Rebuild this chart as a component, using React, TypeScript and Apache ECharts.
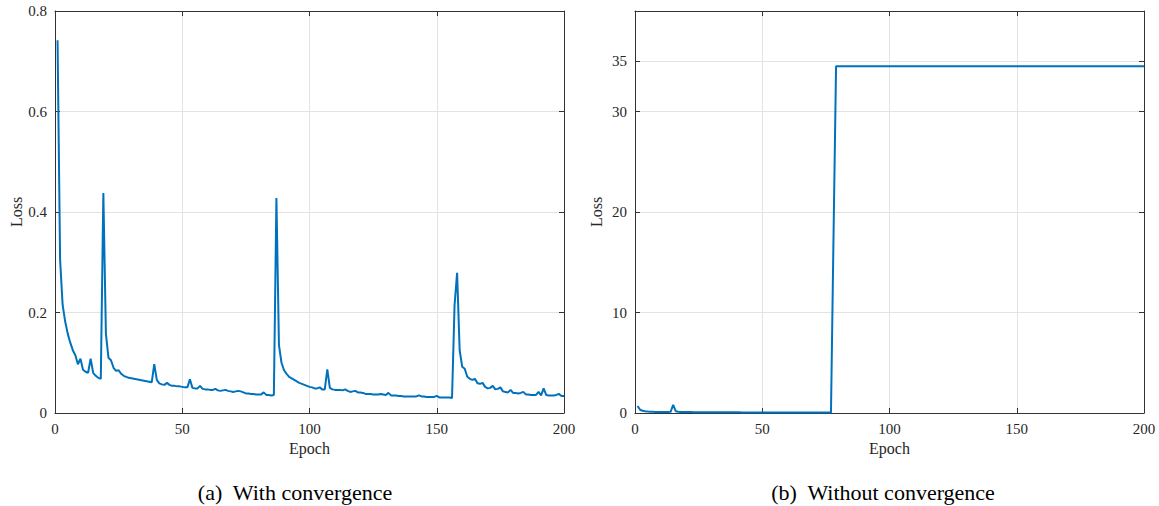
import React, { useEffect, useRef } from "react";
import * as echarts from "echarts";

// ---------- data ----------
const xTicks = [0, 50, 100, 150, 200];
const yTicksA = [0, 0.2, 0.4, 0.6, 0.8];
const yTicksB = [0, 10, 20, 30, 35];

// (a) With convergence: loss at epochs 1..200
const lossA = [
  0.742, 0.305, 0.215, 0.182, 0.158, 0.140, 0.125, 0.115, 0.097, 0.108,
  0.086, 0.082, 0.080, 0.108, 0.080, 0.074, 0.070, 0.068, 0.438, 0.158,
  0.110, 0.105, 0.090, 0.084, 0.085, 0.078, 0.074, 0.072, 0.070, 0.069,
  0.068, 0.067, 0.066, 0.065, 0.064, 0.063, 0.062, 0.061, 0.097, 0.066,
  0.059, 0.057, 0.056, 0.060, 0.056, 0.054, 0.054, 0.053, 0.053, 0.052,
  0.051, 0.051, 0.067, 0.050, 0.049, 0.049, 0.054, 0.048, 0.047, 0.047,
  0.046, 0.046, 0.048, 0.045, 0.044, 0.045, 0.046, 0.044, 0.043, 0.042,
  0.043, 0.044, 0.043, 0.041, 0.039, 0.039, 0.038, 0.038, 0.037, 0.037,
  0.037, 0.041, 0.036, 0.036, 0.035, 0.036, 0.428, 0.135, 0.100, 0.085,
  0.078, 0.072, 0.069, 0.066, 0.063, 0.060, 0.058, 0.056, 0.054, 0.052,
  0.051, 0.049, 0.049, 0.051, 0.047, 0.047, 0.087, 0.050, 0.047, 0.046,
  0.046, 0.046, 0.045, 0.047, 0.044, 0.042, 0.043, 0.044, 0.041, 0.041,
  0.040, 0.038, 0.038, 0.038, 0.037, 0.037, 0.037, 0.038, 0.037, 0.036,
  0.040, 0.035, 0.035, 0.035, 0.034, 0.034, 0.033, 0.033, 0.033, 0.033,
  0.033, 0.033, 0.035, 0.033, 0.033, 0.032, 0.032, 0.032, 0.032, 0.034,
  0.031, 0.031, 0.031, 0.031, 0.031, 0.030, 0.215, 0.279, 0.125, 0.092,
  0.088, 0.072, 0.068, 0.066, 0.068, 0.059, 0.058, 0.060, 0.052, 0.049,
  0.050, 0.054, 0.047, 0.048, 0.051, 0.043, 0.042, 0.041, 0.046, 0.040,
  0.040, 0.039, 0.040, 0.042, 0.037, 0.037, 0.036, 0.036, 0.036, 0.042,
  0.035, 0.049, 0.036, 0.035, 0.035, 0.035, 0.036, 0.038, 0.034, 0.034,
];

// (b) Without convergence: loss at epochs 1..200
const lossB = [
  0.70, 0.32, 0.22, 0.18, 0.15, 0.13, 0.12, 0.11, 0.10, 0.10,
  0.10, 0.09, 0.09, 0.12, 0.82, 0.18, 0.12, 0.10, 0.10, 0.09,
  0.09, 0.09, 0.08, 0.08, 0.08, 0.08, 0.08, 0.07, 0.07, 0.07,
  0.07, 0.07, 0.07, 0.07, 0.07, 0.07, 0.07, 0.07, 0.07, 0.07,
  0.07, 0.06, 0.06, 0.06, 0.06, 0.06, 0.06, 0.06, 0.06, 0.06,
  0.06, 0.06, 0.06, 0.06, 0.06, 0.06, 0.06, 0.06, 0.06, 0.06,
  0.05, 0.05, 0.05, 0.05, 0.05, 0.05, 0.05, 0.05, 0.05, 0.05,
  0.05, 0.05, 0.05, 0.05, 0.05, 0.05, 0.05, 17.5, 34.5, 34.5,
  34.5, 34.5, 34.5, 34.5, 34.5, 34.5, 34.5, 34.5, 34.5, 34.5,
  34.5, 34.5, 34.5, 34.5, 34.5, 34.5, 34.5, 34.5, 34.5, 34.5,
  34.5, 34.5, 34.5, 34.5, 34.5, 34.5, 34.5, 34.5, 34.5, 34.5,
  34.5, 34.5, 34.5, 34.5, 34.5, 34.5, 34.5, 34.5, 34.5, 34.5,
  34.5, 34.5, 34.5, 34.5, 34.5, 34.5, 34.5, 34.5, 34.5, 34.5,
  34.5, 34.5, 34.5, 34.5, 34.5, 34.5, 34.5, 34.5, 34.5, 34.5,
  34.5, 34.5, 34.5, 34.5, 34.5, 34.5, 34.5, 34.5, 34.5, 34.5,
  34.5, 34.5, 34.5, 34.5, 34.5, 34.5, 34.5, 34.5, 34.5, 34.5,
  34.5, 34.5, 34.5, 34.5, 34.5, 34.5, 34.5, 34.5, 34.5, 34.5,
  34.5, 34.5, 34.5, 34.5, 34.5, 34.5, 34.5, 34.5, 34.5, 34.5,
  34.5, 34.5, 34.5, 34.5, 34.5, 34.5, 34.5, 34.5, 34.5, 34.5,
  34.5, 34.5, 34.5, 34.5, 34.5, 34.5, 34.5, 34.5, 34.5, 34.5,
];

const captions = ["(a)  With convergence", "(b)  Without convergence"];
const xName = "Epoch";
const yName = "Loss";

// ---------- styles ----------
const FONT = "Liberation Serif";
const AXIS_COLOR = "#333333";
const TEXT_COLOR = "#262626";
const GRID_COLOR = "#e3e3e3";
const LINE_COLOR = "#0072BD";

export default function App() {
  const ref = useRef<HTMLDivElement>(null);

  useEffect(() => {
    if (!ref.current) return;
    const chart = echarts.init(ref.current, undefined, { renderer: "svg" });

    const axisLine = { show: true, onZero: false, lineStyle: { color: AXIS_COLOR, width: 1 } };
    const tickIn = { show: true, inside: true, length: 5, lineStyle: { color: AXIS_COLOR, width: 1 } };
    const labelStyle = { fontFamily: FONT, fontSize: 15, color: TEXT_COLOR };
    const nameStyle = { fontFamily: FONT, fontSize: 16, color: TEXT_COLOR };

    const xAxisFor = (gridIndex: number) => [
      {
        type: "value", gridIndex, min: xTicks[0], max: xTicks[xTicks.length - 1], interval: 50, position: "bottom",
        axisLine, axisTick: tickIn,
        axisLabel: { ...labelStyle, margin: 8 },
        splitLine: { show: true, showMinLine: false, showMaxLine: false, lineStyle: { color: GRID_COLOR, width: 1 } },
        name: xName, nameLocation: "middle", nameGap: 27, nameTextStyle: nameStyle,
      },
      {
        type: "value", gridIndex, min: xTicks[0], max: xTicks[xTicks.length - 1], interval: 50, position: "top",
        axisLine, axisTick: tickIn, axisLabel: { show: false }, splitLine: { show: false },
      },
    ];

    const captionStyle = (text: string) => ({
      text,
      font: "22px 'Liberation Serif', serif",
      fontFamily: FONT,
      fontSize: 22,
      fill: "#000",
      align: "center",
      verticalAlign: "top",
    });

    const option: any = {
      animation: false,
      backgroundColor: "#ffffff",
      textStyle: { fontFamily: FONT },
      grid: [
        { left: 55, top: 11, width: 509, height: 402, containLabel: false },
        { left: 635, top: 11, width: 509, height: 402, containLabel: false },
      ],
      xAxis: [...xAxisFor(0), ...xAxisFor(1)],
      yAxis: [
        // chart (a)
        {
          type: "value", gridIndex: 0, min: yTicksA[0], max: yTicksA[yTicksA.length - 1], interval: 0.2, position: "left",
          axisLine, axisTick: tickIn,
          axisLabel: { ...labelStyle, margin: 8, formatter: (v: number) => (v === 0 ? "0" : v.toFixed(1)) },
          splitLine: { show: true, showMinLine: false, showMaxLine: false, lineStyle: { color: GRID_COLOR, width: 1 } },
          name: yName, nameLocation: "middle", nameGap: 31, nameTextStyle: nameStyle,
        },
        {
          type: "value", gridIndex: 0, min: yTicksA[0], max: yTicksA[yTicksA.length - 1], interval: 0.2, position: "right",
          axisLine, axisTick: tickIn, axisLabel: { show: false }, splitLine: { show: false },
        },
        // chart (b)
        {
          type: "value", gridIndex: 1, min: 0, max: 40, interval: 5, position: "left",
          axisLine,
          axisTick: { ...tickIn, customValues: yTicksB },
          axisLabel: {
            ...labelStyle, margin: 8,
            formatter: (v: number) => (yTicksB.indexOf(v) >= 0 ? String(v) : ""),
          },
          splitLine: { show: false },
          name: yName, nameLocation: "middle", nameGap: 31, nameTextStyle: nameStyle,
        },
        {
          type: "value", gridIndex: 1, min: 0, max: 40, interval: 5, position: "right",
          axisLine, axisTick: { ...tickIn, customValues: yTicksB }, axisLabel: { show: false }, splitLine: { show: false },
        },
        {
          type: "value", gridIndex: 1, min: 0, max: 40, interval: 5, position: "left",
          axisLine: { show: false, onZero: false }, axisTick: { show: false }, axisLabel: { show: false },
          splitLine: {
            show: true,
            lineStyle: {
              color: [
                "transparent", "transparent", GRID_COLOR, "transparent", GRID_COLOR,
                "transparent", GRID_COLOR, GRID_COLOR, "transparent",
              ],
              width: 1,
            },
          },
        },
      ],
      series: [
        {
          type: "line", xAxisIndex: 0, yAxisIndex: 0,
          data: lossA.map((v, i) => [i + 1, v]),
          showSymbol: false, symbol: "none",
          lineStyle: { color: LINE_COLOR, width: 2 }, z: 3,
        },
        {
          type: "line", xAxisIndex: 2, yAxisIndex: 2,
          data: lossB.map((v, i) => [i + 1, v]),
          showSymbol: false, symbol: "none",
          lineStyle: { color: LINE_COLOR, width: 2 }, z: 3,
        },
      ],
      graphic: [
        { type: "text", x: 295, y: 481, style: captionStyle(captions[0]) },
        { type: "text", x: 883, y: 481, style: captionStyle(captions[1]) },
      ],
    };

    chart.setOption(option);
    return () => chart.dispose();
  }, []);

  return (
    <div
      ref={ref}
      style={{ position: "absolute", left: 0, top: 0, width: 1159, height: 506, background: "#fff" }}
    />
  );
}
